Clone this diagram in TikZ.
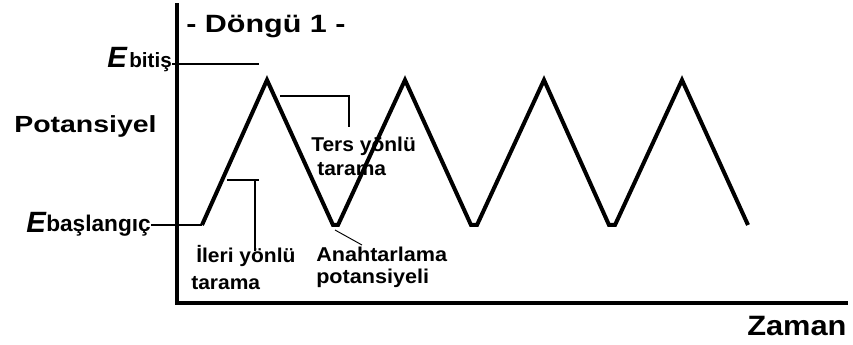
\documentclass[tikz,border=0pt]{standalone}
\usepackage{fontspec}
\setmainfont{Liberation Sans}
\usepackage{graphicx}
\newcommand{\hs}[2]{\scalebox{#1}[1]{#2}}
\begin{document}
\begin{tikzpicture}[x=0.75pt,y=-0.75pt,
  lbl/.style={inner sep=0pt,anchor=base west,font=\bfseries},
  small/.style={lbl,font=\fontsize{15}{18}\selectfont\bfseries},
  axis/.style={line width=2.7pt,line cap=rect},
  wave/.style={line width=3pt,line join=miter},
  leader/.style={line width=1pt}]
\useasboundingbox (0,0) rectangle (853,345);
% axes
\coordinate (ytop) at (177,5);
\coordinate (orig) at (177,303);
\coordinate (xend) at (846,303);
% labels
\node[lbl,font=\fontsize{18.75}{22}\selectfont\bfseries] (title) at (186,33) {\hs{1.22}{- Döngü 1 -}};
\node[lbl,font=\fontsize{17.5}{21}\selectfont\bfseries] (pot) at (14,133) {\hs{1.22}{Potansiyel}};
\node[lbl,font=\fontsize{22}{26}\selectfont\bfseries\itshape] (E1) at (107,68) {E};
\node[lbl,font=\fontsize{15.5}{18}\selectfont\bfseries] (bitis) at (129,68) {bitiş};
\node[lbl,font=\fontsize{22}{26}\selectfont\bfseries\itshape] (E2) at (26,233) {E};
\node[lbl,font=\fontsize{17}{20}\selectfont\bfseries] (baslangic) at (46,232) {başlangıç};
\node[small] (ters1) at (311,152) {\hs{1.05}{Ters yönlü}};
\node[small] (ters2) at (317,176) {\hs{1.05}{tarama}};
\node[small] (ileri1) at (196,263) {\hs{1.05}{İleri yönlü}};
\node[small] (ileri2) at (191,290) {\hs{1.05}{tarama}};
\node[small] (anah1) at (316,262) {\hs{1.08}{Anahtarlama}};
\node[small] (anah2) at (316,284) {\hs{1.08}{potansiyeli}};
\node[lbl,font=\fontsize{21}{25}\selectfont\bfseries] (zaman) at (747,335) {\hs{1.1}{Zaman}};
% waveform
\coordinate (s0) at (202,225);
\coordinate (p1) at (267,80);
\coordinate (v1a) at (333,225);
\coordinate (v1b) at (338,225);
\coordinate (p2) at (405,80);
\coordinate (v2a) at (471,225);
\coordinate (v2b) at (477,225);
\coordinate (p3) at (544,80);
\coordinate (v3a) at (609,225);
\coordinate (v3b) at (615,225);
\coordinate (p4) at (682,80);
\coordinate (e0) at (748,225);
% leader coordinates
\coordinate (bitEnd) at (259,64);
\coordinate (t1) at (280,96);
\coordinate (t2) at (349,96);
\coordinate (t3) at (349,127);
\coordinate (i1) at (227,180);
\coordinate (i2) at (259,180);
\coordinate (i3) at (255,180);
\coordinate (i4) at (255,251);
\coordinate (a1) at (335,230);
\coordinate (a2) at (362,245);
% leaders
\draw[leader] (bitis.east |- 0,64) -- (bitEnd);
\draw[leader] (baslangic.east |- 0,225) -- (s0);
\draw[leader] (t1) -- (t2) -- (t3);
\draw[leader] (i1) -- (i2);
\draw[leader] (i3) -- (i4);
\draw[leader,line width=0.7pt] (a1) -- (a2);
% axes
\draw[axis] (ytop) -- (orig) -- (xend);
% wave
\draw[wave] (s0) -- (p1) -- (v1a) -- (v1b) -- (p2) -- (v2a) -- (v2b) -- (p3) -- (v3a) -- (v3b) -- (p4) -- (e0);
\end{tikzpicture}
\end{document}
